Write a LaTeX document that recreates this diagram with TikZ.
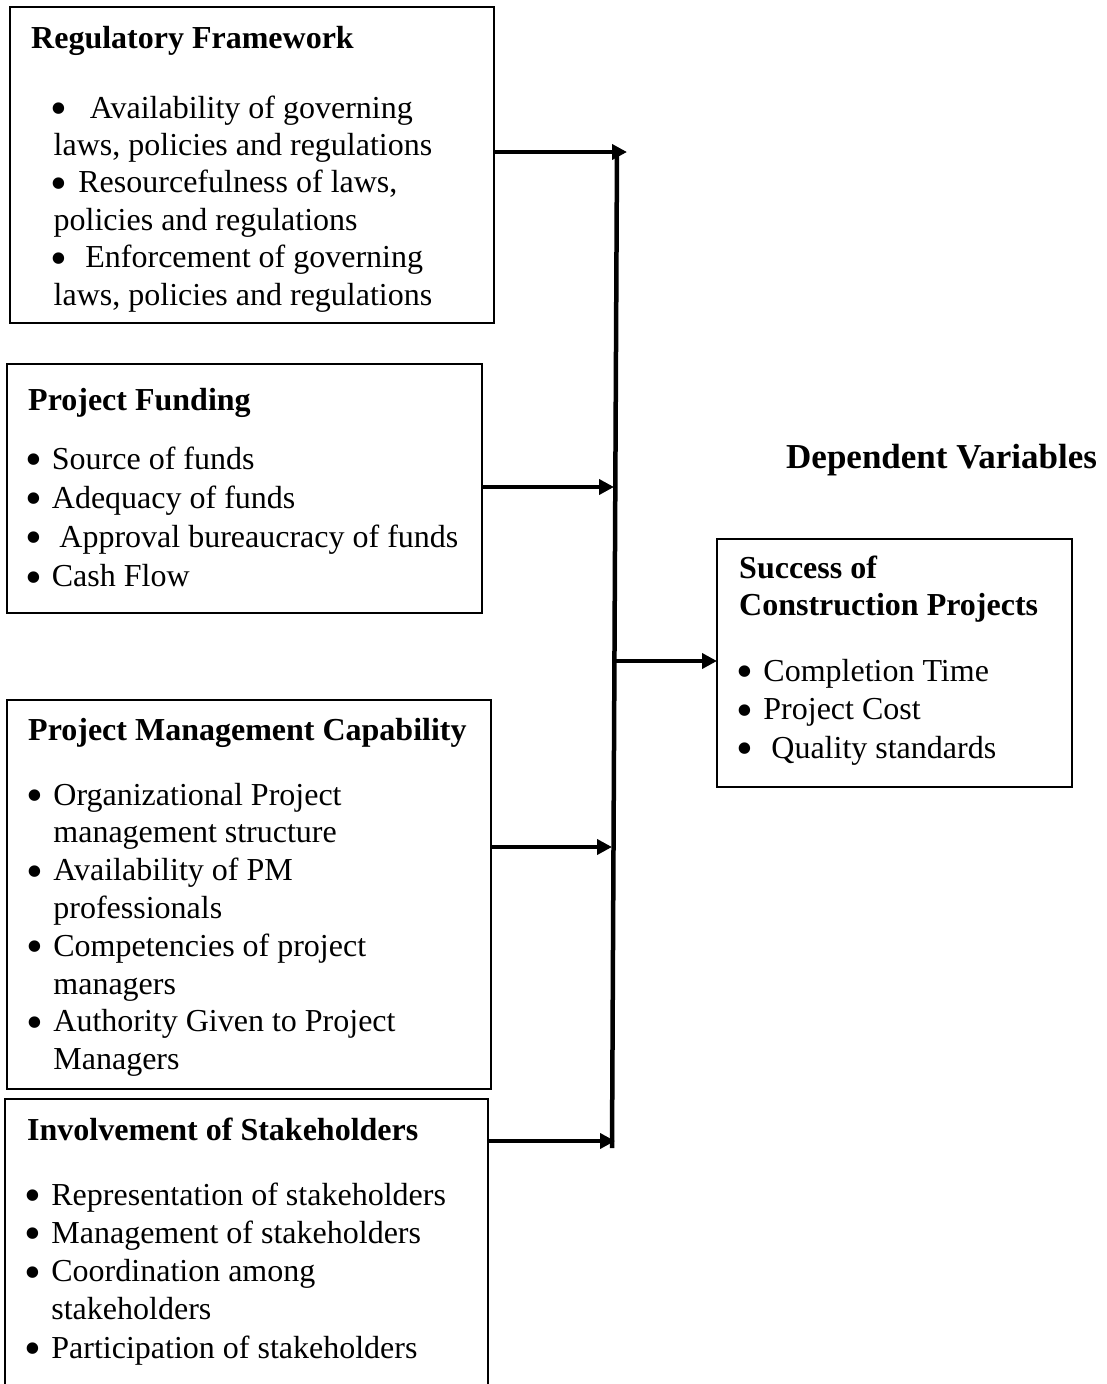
\documentclass[tikz,border=0pt]{standalone}
\usepackage{fontspec}
\setmainfont{Liberation Serif}
\usetikzlibrary{arrows.meta}
\newcommand{\bulmark}{\makebox[11.2pt][c]{\smash{\raisebox{-6.5pt}{\scalebox{1.5}{\textbullet}}}}}
\newcommand{\bul}[1][13pt]{\bulmark\hspace{#1}}
\newcommand{\hang}{\hspace*{24.2pt}}
\tikzset{
  panel/.style={draw, line width=1.8pt, inner sep=0pt, outer sep=0pt, anchor=north west},
  plain text/.style={anchor=base west, inner sep=0pt, execute at begin node={\spaceskip=0pt\xspaceskip=0pt\relax}},
  heading/.style={plain text, font=\fontsize{32}{37}\selectfont\bfseries, text width=450pt},
  items/.style={plain text, font=\fontsize{32}{#1}\selectfont, text width=440pt},
  items/.default=37.8,
  flow/.style={line width=4pt, -{Triangle[length=15pt,width=15pt]}}
}
\begin{document}
\begin{tikzpicture}[x=1pt,y=-1pt]
\useasboundingbox (0,0) rectangle (1106,1384);
\clip (0,0) rectangle (1106,1384);
% boxes
\node[panel, minimum width=484pt, minimum height=316pt] (reg) at (10,7) {};
\node[panel, minimum width=475pt, minimum height=249pt] (fund) at (7,364) {};
\node[panel, minimum width=484pt, minimum height=389pt] (pm) at (7,700) {};
\node[panel, minimum width=483pt, minimum height=320pt] (stake) at (5,1099) {};
\node[panel, minimum width=355pt, minimum height=248pt] (succ) at (717,539) {};

% regulatory framework
\node[heading] (regtitle) at (31,48) {Regulatory Framework};
\node[items=37.4] (reglist) at (53.5,118) {\bul[25pt]Availability of governing\\
  laws, policies and regulations\\
  \bul[13.5pt]Resourcefulness of laws,\\
  policies and regulations\\
  \bul[20.5pt]Enforcement of governing\\
  laws, policies and regulations};

% project funding
\node[heading] (fundtitle) at (28,410) {Project Funding};
\node[items=39.2] (fundlist) at (28,469) {\bul[12.5pt]Source of funds\\
  \bul[12.5pt]Adequacy of funds\\
  \bul[20pt]Approval bureaucracy of funds\\
  \bul[12.5pt]Cash Flow};

% project management capability
\node[heading] (pmtitle) at (28,740) {Project Management Capability};
\node[items=37.8] (pmlist) at (29,805) {\bul Organizational Project\\
  \hang management structure\\
  \bul Availability of PM\\
  \hang professionals\\
  \bul Competencies of project\\
  \hang managers\\
  \bul Authority Given to Project\\
  \hang Managers};

% stakeholders
\node[heading] (staketitle) at (27,1140) {Involvement of Stakeholders};
\node[items=38.3] (stakelist) at (27,1205) {\bul Representation of stakeholders\\
  \bul Management of stakeholders\\
  \bul Coordination among\\
  \hang stakeholders\\
  \bul Participation of stakeholders};

% dependent side
\node[plain text, font=\fontsize{35}{40}\selectfont\bfseries] (deplabel) at (786,468) {Dependent Variables};
\node[heading, text width=330pt] (succtitle) at (739,578) {Success of\\ Construction Projects};
\node[items=38.5, text width=330pt] (succlist) at (739,681) {\bul Completion Time\\
  \bul Project Cost\\
  \bul[21pt]Quality standards};

% connectors
\coordinate (busTop) at (617,151);
\coordinate (busBot) at (612,1148);
\coordinate (in1) at (627,152);
\coordinate (in2) at (614,487);
\coordinate (out) at (616,661);
\coordinate (in4) at (612,847);
\coordinate (in5) at (615,1141);
\draw[line width=4.5pt] (busTop) -- (busBot);
\draw[flow] (reg.east |- in1) -- (in1);
\draw[flow] (fund.east |- in2) -- (in2);
\draw[flow] (pm.east |- in4) -- (in4);
\draw[flow] (stake.east |- in5) -- (in5);
\draw[flow] (out) -- (succ.west |- out);
\end{tikzpicture}
\end{document}
